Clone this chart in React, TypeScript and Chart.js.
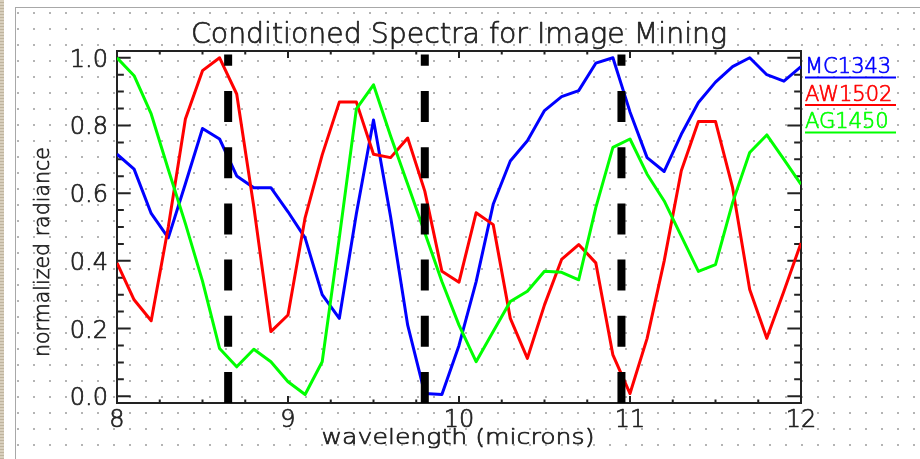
import React, { useEffect, useRef } from "react";
import { Chart, registerables } from "chart.js";

Chart.register(...registerables);

// ---------- data ----------
const wavelengths = [
  8.0, 8.1, 8.2, 8.3, 8.4, 8.5, 8.6, 8.7, 8.8, 8.9,
  9.0, 9.1, 9.2, 9.3, 9.4, 9.5, 9.6, 9.7, 9.8, 9.9,
  10.0, 10.1, 10.2, 10.3, 10.4, 10.5, 10.6, 10.7, 10.8, 10.9,
  11.0, 11.1, 11.2, 11.3, 11.4, 11.5, 11.6, 11.7, 11.8, 11.9,
  12.0,
];

const mc1343 = [
  0.715, 0.671, 0.54, 0.468, 0.628, 0.791, 0.76, 0.651, 0.616, 0.616,
  0.545, 0.468, 0.3, 0.23, 0.54, 0.816, 0.53, 0.21, 0.008, 0.005,
  0.15, 0.338, 0.567, 0.695, 0.755, 0.844, 0.885, 0.903, 0.984, 1.0,
  0.84, 0.705, 0.664, 0.774, 0.868, 0.928, 0.974, 1.0, 0.95, 0.931,
  0.974,
];

const aw1502 = [
  0.394, 0.285, 0.223, 0.5, 0.819, 0.962, 1.0, 0.893, 0.56, 0.191,
  0.24, 0.527, 0.713, 0.869, 0.869, 0.715, 0.705, 0.763, 0.606, 0.369,
  0.337, 0.542, 0.507, 0.23, 0.112, 0.27, 0.404, 0.448, 0.394, 0.122,
  0.008, 0.171, 0.4, 0.666, 0.812, 0.812, 0.616, 0.315, 0.171, 0.31,
  0.453,
];

const ag1450 = [
  1.0, 0.947, 0.834, 0.67, 0.51, 0.34, 0.141, 0.087, 0.139, 0.102,
  0.043, 0.005, 0.102, 0.468, 0.849, 0.92, 0.769, 0.626, 0.483, 0.339,
  0.21, 0.102, 0.191, 0.28, 0.31, 0.369, 0.366, 0.344, 0.557, 0.735,
  0.76, 0.656, 0.577, 0.473, 0.369, 0.389, 0.572, 0.72, 0.772, 0.7,
  0.626,
];

const seriesLabels = ["MC1343", "AW1502", "AG1450"];
const seriesColors = ["#0000ff", "#ff0000", "#00ff00"];

const markerWavelengths = [8.65, 9.8, 10.95];
const markerSpan = [-0.02, 1.01];

const xRange = [8, 12];
const yRange = [-0.02, 1.02];
const xTickValues = [8, 9, 10, 11, 12];
const xTickLabels = ["8", "9", "10", "11", "12"];
const xMinorTicks = [8.25, 8.5, 8.75, 9.25, 9.5, 9.75, 10.25, 10.5, 10.75, 11.25, 11.5, 11.75];
const yTickValues = [0, 0.2, 0.4, 0.6, 0.8, 1.0];
const yTickLabels = ["0.0", "0.2", "0.4", "0.6", "0.8", "1.0"];
const yMinorTicks = [
  0.05, 0.1, 0.15, 0.25, 0.3, 0.35, 0.45, 0.5, 0.55, 0.65, 0.7, 0.75, 0.85, 0.9, 0.95,
];

const chartTitle = "Conditioned Spectra for Image Mining";
const xTitle = "wavelength (microns)";
const yTitle = "normalized radiance";

// ---------- styling ----------
const FONT = '"DejaVu Sans", "Liberation Sans", sans-serif';
const INK = "#222222";

function drawText(
  ctx: CanvasRenderingContext2D,
  text: string,
  x: number,
  y: number,
  size: number,
  color: string,
  align: CanvasTextAlign,
  width?: number,
  rotate?: number
) {
  ctx.save();
  ctx.font = `200 ${size}px ${FONT}`;
  ctx.fillStyle = color;
  ctx.strokeStyle = color;
  ctx.lineWidth = 0.7;
  ctx.lineJoin = "round";
  ctx.textBaseline = "alphabetic";
  ctx.textAlign = align;
  ctx.translate(x, y);
  if (rotate) ctx.rotate(rotate);
  if (width) {
    const w = ctx.measureText(text).width;
    ctx.scale(width / w, 1);
  }
  ctx.fillText(text, 0, 0);
  ctx.strokeText(text, 0, 0);
  ctx.restore();
}

const idlFramePlugin = {
  id: "idlFrame",
  beforeDatasetsDraw(chart: any) {
    const { ctx, chartArea: a } = chart;
    const x = chart.scales.x;
    const y = chart.scales.y;
    const w = a.right - a.left;
    const h = a.bottom - a.top;
    const yMajor = 0.02 * w;
    const xMajor = 0.02 * h;
    ctx.save();
    ctx.strokeStyle = INK;
    ctx.lineWidth = 2;
    ctx.strokeRect(a.left, a.top, w, h);
    ctx.beginPath();
    const xt = (v: number, len: number) => {
      const px = x.getPixelForValue(v);
      ctx.moveTo(px, a.bottom);
      ctx.lineTo(px, a.bottom - len);
      ctx.moveTo(px, a.top);
      ctx.lineTo(px, a.top + len);
    };
    const yt = (v: number, len: number) => {
      const py = y.getPixelForValue(v);
      ctx.moveTo(a.left, py);
      ctx.lineTo(a.left + len, py);
      ctx.moveTo(a.right, py);
      ctx.lineTo(a.right - len, py);
    };
    xTickValues.forEach((v) => xt(v, xMajor));
    xMinorTicks.forEach((v) => xt(v, xMajor / 2));
    yTickValues.forEach((v) => yt(v, yMajor));
    yMinorTicks.forEach((v) => yt(v, yMajor / 2));
    ctx.stroke();
    ctx.restore();

    // tick labels
    xTickValues.forEach((v, i) => {
      drawText(ctx, xTickLabels[i], x.getPixelForValue(v), a.bottom + 24, 24, INK, "center");
    });
    yTickValues.forEach((v, i) => {
      drawText(ctx, yTickLabels[i], a.left - 9, y.getPixelForValue(v) + 9, 24, INK, "right");
    });

    // titles
    drawText(ctx, chartTitle, (a.left + a.right) / 2, 43, 28, INK, "center", 536);
    drawText(ctx, xTitle, (a.left + a.right) / 2 - 1, 444, 22, INK, "center", 273);
    drawText(ctx, yTitle, 49, 252, 22, INK, "center", 210, -Math.PI / 2);
  },
  afterDraw(chart: any) {
    const { ctx, chartArea: a } = chart;
    seriesLabels.forEach((label, i) => {
      const base = 73 + i * 27.5;
      drawText(ctx, label, a.right + 4, base, 21, seriesColors[i], "left");
      ctx.save();
      ctx.strokeStyle = seriesColors[i];
      ctx.lineWidth = 2;
      ctx.beginPath();
      ctx.moveTo(a.right + 4, base + 4.5);
      ctx.lineTo(a.right + 95, base + 4.5);
      ctx.stroke();
      ctx.restore();
    });
  },
};

export default function App() {
  const canvasRef = useRef<HTMLCanvasElement | null>(null);

  useEffect(() => {
    const canvas = canvasRef.current;
    if (!canvas) return;
    const seriesValues = [mc1343, aw1502, ag1450];
    const lineSets = seriesValues.map((vals, i) => ({
      label: seriesLabels[i],
      data: wavelengths.map((w, j) => ({ x: w, y: vals[j] })),
      borderColor: seriesColors[i],
      borderWidth: 3,
      pointRadius: 0,
      tension: 0,
      fill: false,
      borderJoinStyle: "round" as const,
      order: 10 - i,
    }));
    const markerSets = markerWavelengths.map((m) => ({
      label: `marker ${m}`,
      data: [
        { x: m, y: markerSpan[0] },
        { x: m, y: markerSpan[1] },
      ],
      borderColor: "#000000",
      borderWidth: 8,
      borderDash: [31, 25.2],
      borderCapStyle: "butt" as const,
      pointRadius: 0,
      fill: false,
      order: 0,
    }));

    const chart = new Chart(canvas, {
      type: "line",
      data: { datasets: [...markerSets, ...lineSets] as any },
      options: {
        responsive: false,
        animation: false,
        events: [],
        layout: { padding: { left: 117, right: 119, top: 51, bottom: 56 } },
        scales: {
          x: { type: "linear", min: xRange[0], max: xRange[1], display: false },
          y: { type: "linear", min: yRange[0], max: yRange[1], display: false },
        },
        plugins: {
          legend: { display: false },
          title: { display: false },
          tooltip: { enabled: false },
        },
      },
      plugins: [idlFramePlugin],
    });
    return () => chart.destroy();
  }, []);

  return (
    <div
      style={{
        position: "absolute",
        left: 0,
        top: 0,
        width: 920,
        height: 459,
        background: "#ffffff",
        overflow: "hidden",
      }}
    >
      <div
        style={{
          position: "absolute",
          left: 0,
          top: 0,
          width: 4,
          height: 459,
          backgroundColor: "#d8cfbd",
          backgroundImage:
            "repeating-linear-gradient(0deg, #bfb49e 0px, #bfb49e 1px, transparent 1px, transparent 3px)",
        }}
      />
      <div
        style={{
          position: "absolute",
          left: 16,
          top: 8,
          right: 0,
          bottom: 0,
          backgroundImage: "radial-gradient(circle, #b4b4b4 0px, #b4b4b4 0.9px, transparent 1.4px)",
          backgroundSize: "16px 16px",
          backgroundPosition: "-6px -3px",
        }}
      />
      <div style={{ position: "absolute", left: 15, top: 7, width: 905, height: 1, background: "#a8a8a8" }} />
      <div style={{ position: "absolute", left: 15, top: 7, width: 1, height: 452, background: "#a8a8a8" }} />
      <canvas
        ref={canvasRef}
        width={920}
        height={459}
        style={{ position: "absolute", left: 0, top: 0, width: 920, height: 459 }}
      />
    </div>
  );
}
